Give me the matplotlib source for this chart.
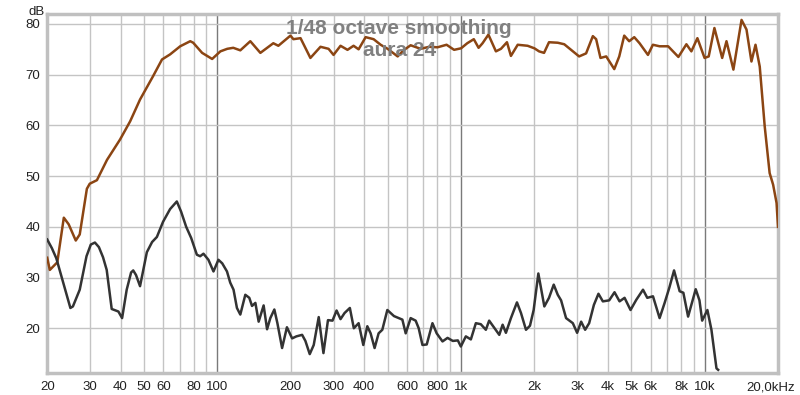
import matplotlib
matplotlib.use("Agg")
import matplotlib.pyplot as plt
import matplotlib.transforms as mtransforms
from matplotlib.ticker import FixedLocator, NullLocator

plt.rcParams['font.family'] = ['Liberation Sans', 'DejaVu Sans']

# Frequency response (brown)
fr_freq = [20, 20.5, 22.0, 23.4, 24.5, 26.2, 27.2, 29.1, 29.9, 32.0, 35.2, 39.8, 43.8,
           48.1, 54.4, 59.2, 63.9, 70.3, 77.3, 79.5, 86.5, 95.1, 102.8, 109.7, 116.1,
           124.1, 136.4, 150, 169.5, 177.8, 199.3, 205, 219.3, 240.7, 264.8, 285.8,
           299.5, 320, 341.8, 362, 379.7, 405.7, 437.5, 467.6, 499.5, 549.2, 580, 620.9,
           682.4, 740, 800, 872, 936, 1000, 1060, 1128, 1180, 1225, 1295, 1390, 1458,
           1543, 1602, 1708, 1876, 2000, 2090, 2191, 2296, 2494, 2652, 3052, 3260, 3475,
           3585, 3735, 3943, 4255, 4460, 4675, 4899, 5140, 5404, 5850, 6130, 6530, 7080,
           7800, 8414, 8819, 9336, 9990, 10390, 10965, 11800, 12290, 13120, 14170, 14850,
           15560, 16170, 16830, 17640, 18480, 19100, 19730, 20000]
fr_db = [33.9, 31.5, 33.0, 41.8, 40.5, 37.3, 38.5, 47.5, 48.5, 49.2, 53.2, 57.2, 60.8,
         65.1, 69.7, 73.0, 74.0, 75.6, 76.6, 76.3, 74.3, 73.1, 74.6, 75.1, 75.3,
         74.8, 76.6, 74.3, 76.2, 75.7, 77.7, 77.0, 77.2, 73.3, 75.5, 75.1,
         73.9, 75.7, 74.9, 75.7, 75.0, 77.4, 77.0, 75.9, 75.1, 73.6, 74.8, 75.8,
         75.1, 75.5, 75.4, 75.9, 74.9, 75.2, 76.2, 77.0, 75.3, 76.2, 77.9, 74.6, 75.1,
         76.4, 73.7, 75.9, 75.7, 75.2, 74.6, 74.3, 76.4, 76.3, 76.0, 73.6, 74.2, 77.6,
         77.0, 73.3, 73.6, 71.1, 73.6, 77.7, 76.6, 77.4, 76.2, 73.9, 75.9, 75.6, 75.6,
         73.5, 76.0, 74.6, 77.2, 73.3, 73.6, 79.2, 73.3, 76.6, 71.0, 80.8, 78.9,
         72.6, 75.9, 71.6, 59.8, 50.6, 48.3, 44.7, 40.0]

# Distortion (dark gray)
hd_freq = [20, 20.9, 21.8, 23.3, 24.9, 25.5, 27.2, 29.0, 30.2, 31.4, 32.6, 33.9, 35.1,
           36.8, 39.2, 40.6, 42.4, 44.2, 45.1, 46.3, 48.1, 51.3, 53.9, 56.4, 59.8, 63.9,
           68.1, 70.9, 74.4, 78.0, 82.3, 84.9, 87.6, 91.8, 96.3, 100.9, 104.6, 109.4,
           112.8, 116.4, 120.2, 124.1, 130.1, 135.1, 138.6, 143.1, 147.6, 154.7, 159.8,
           164.8, 171.2, 176.2, 184.2, 192.8, 202.5, 210.9, 222.6, 229.6, 239.2, 248.4,
           260.4, 272.3, 284.2, 296.6, 308.3, 320, 332.4, 349.5, 362.9, 379.7, 396.9,
           412.2, 425.3, 441.6, 458.7, 475.0, 498.1, 530.3, 574.2, 592.5, 620.9, 651,
           670, 694.2, 722.8, 763, 794, 839, 880, 925, 970, 998, 1046, 1097, 1150, 1205,
           1264, 1304, 1368, 1435, 1481, 1528, 1602, 1696, 1762, 1847, 1918, 1986, 2076,
           2197, 2296, 2401, 2494, 2574, 2698, 2876, 2995, 3111, 3231, 3356, 3509, 3664,
           3820, 4055, 4265, 4473, 4690, 4962, 5238, 5583, 5813, 6135, 6531, 6849, 7160,
           7487, 7894, 8175, 8550, 9189, 9520, 9766, 10260, 10660, 11180, 11360]
hd_db = [37.5, 35.8, 33.8, 28.9, 24.0, 24.3, 27.6, 34.2, 36.5, 36.9, 36.0, 34.0, 31.5,
         23.8, 23.3, 22.0, 27.6, 31.0, 31.4, 30.5, 28.3, 35.0, 37.0, 38.0, 41.0, 43.5,
         45.0, 43.0, 40.0, 37.8, 34.5, 34.2, 34.7, 33.5, 31.2, 33.5, 32.8, 31.2,
         29.0, 27.6, 24.0, 22.7, 26.6, 26.0, 24.4, 25.0, 21.3, 24.5, 19.8,
         22.0, 23.7, 21.0, 16.1, 20.2, 18.0, 18.4, 18.7, 17.5, 14.9, 16.7,
         22.2, 15.1, 21.6, 21.5, 23.5, 21.8, 23.0, 24.0, 20.0, 21.0, 16.7,
         20.4, 19.0, 16.1, 19.0, 19.7, 23.6, 22.4, 21.7, 19.0, 22.0, 21.5,
         20.0, 16.7, 16.8, 21.0, 19.0, 17.4, 18.1, 17.5, 17.6, 16.4, 18.4, 17.8, 21.0, 20.8,
         19.7, 21.5, 20.1, 18.7, 20.7, 19.1, 22.0, 25.1, 23.0, 19.7, 20.5, 23.6, 30.8,
         24.3, 26.0, 28.6, 26.6, 25.5, 22.0, 21.0, 19.1, 21.3, 19.7, 21.0, 24.6, 26.8,
         25.3, 25.5, 27.1, 25.3, 26.0, 23.6, 25.6, 27.6, 26.0, 26.3, 22.0, 25.0, 28.0,
         31.4, 27.3, 27.0, 22.3, 27.7, 25.5, 21.5, 23.6, 19.7, 12.1, 11.8]

x_ticks = [20, 30, 40, 50, 60, 80, 100, 200, 300, 400, 600, 800, 1000, 2000, 3000,
           4000, 5000, 6000, 8000, 10000, 20000]
x_labels = ['20', '30', '40', '50', '60', '80', '100', '200', '300', '400', '600', '800',
            '1k', '2k', '3k', '4k', '5k', '6k', '8k', '10k', '20,0kHz']
y_ticks = [20, 30, 40, 50, 60, 70, 80]
title_lines = ['1/48 octave smoothing', 'aura 24']

fig = plt.figure(figsize=(8, 3.95), dpi=100)
ax = fig.add_axes([0.059, 0.056, 0.9135, 0.909])
ax.set_xscale('log')
ax.set_xlim(20, 20000)
ax.set_ylim(11.2, 82)

# grid lines
minor = [20, 30, 40, 50, 60, 70, 80, 90, 200, 300, 400, 500, 600, 700, 800, 900,
         2000, 3000, 4000, 5000, 6000, 7000, 8000, 9000]
for f in minor:
    ax.axvline(f, color='#c4c4c4', lw=1.0, zorder=0)
for f in [100, 1000, 10000]:
    ax.axvline(f, color='#7a7a7a', lw=1.0, zorder=0)
for y in y_ticks:
    ax.axhline(y, color='#c4c4c4', lw=1.0, zorder=0)

ax.plot(fr_freq, fr_db, color='#8b4513', lw=1.8, zorder=3, solid_joinstyle='round')
ax.plot(hd_freq, hd_db, color='#333333', lw=1.8, zorder=3, solid_joinstyle='round')

ax.xaxis.set_major_locator(FixedLocator(x_ticks))
ax.xaxis.set_minor_locator(NullLocator())
ax.set_xticklabels(x_labels)
ax.set_yticks(y_ticks)
ax.yaxis.set_minor_locator(NullLocator())
ax.tick_params(axis='both', length=0, labelsize=9.5, colors='#222222')
ax.tick_params(axis='x', pad=6)
ax.tick_params(axis='y', pad=5)

# shift last x label left so it stays inside the figure
last = ax.get_xticklabels()[-1]
last.set_transform(last.get_transform() +
                   mtransforms.ScaledTranslation(-7 / 100, 0, fig.dpi_scale_trans))

for s in ax.spines.values():
    s.set_color('#c0c0c0')
    s.set_linewidth(2.5)

fig.text(0.035, 0.985, 'dB', fontsize=9.5, color='#222222', va='top', ha='left')

fig.text(0.499, 0.952, title_lines[0], ha='center', va='top',
         fontsize=15, fontweight='bold', color='#808080', zorder=5)
fig.text(0.499, 0.896, title_lines[1], ha='center', va='top',
         fontsize=15, fontweight='bold', color='#808080', zorder=5)

fig.savefig('out.png', dpi=100, facecolor='white')
